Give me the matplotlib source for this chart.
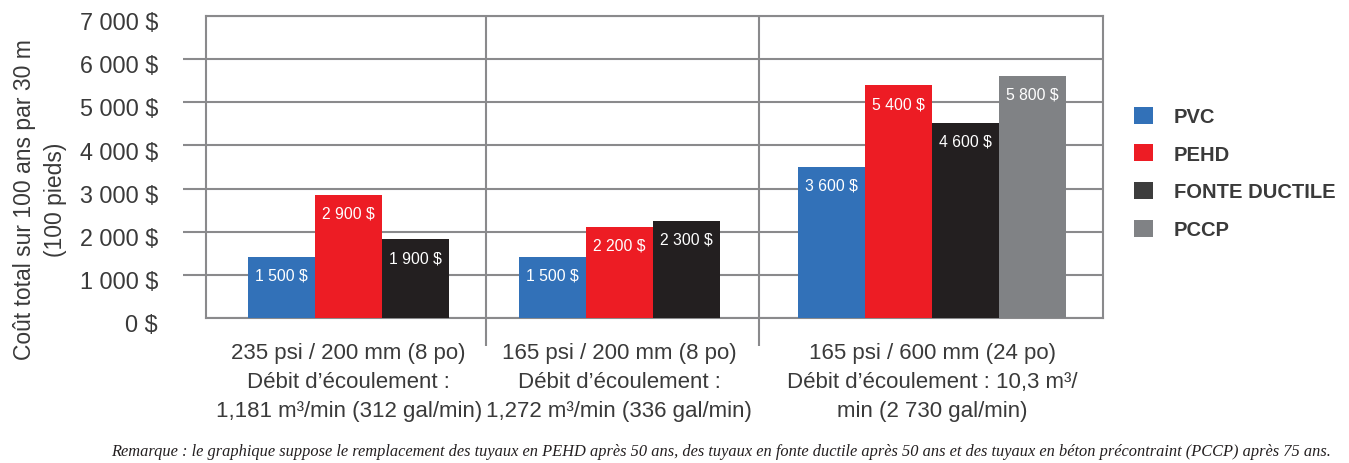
import numpy as np
import matplotlib.pyplot as plt
from matplotlib.patches import Patch
from matplotlib.ticker import FuncFormatter
import matplotlib.transforms as mtransforms

plt.rcParams['font.family'] = ['Liberation Sans', 'DejaVu Sans']

# Data ------------------------------------------------------------
groups = ["235 psi / 200 mm (8 po)\nDébit d’écoulement :\n1,181 m³/min (312 gal/min)",
          "165 psi / 200 mm (8 po)\nDébit d’écoulement :\n1,272 m³/min (336 gal/min)",
          "165 psi / 600 mm (24 po)\nDébit d’écoulement : 10,3 m³/\nmin (2 730 gal/min)"]
series = ["PVC", "PEHD", "FONTE DUCTILE", "PCCP"]
colors = ["#3271b8", "#ed1c24", "#231f20", "#808285"]
legend_colors = ["#3271b8", "#ed1c24", "#3d3d3d", "#808285"]

# bar heights as drawn
pvc = [1410, 1410, 3510]
pehd = [2850, 2120, 5390]
fonte = [1820, 2240, 4515]
pccp = [np.nan, np.nan, 5610]
# values printed on the bars
pvc_lbl = ["1 500 $", "1 500 $", "3 600 $"]
pehd_lbl = ["2 900 $", "2 200 $", "5 400 $"]
fonte_lbl = ["1 900 $", "2 300 $", "4 600 $"]
pccp_lbl = ["", "", "5 800 $"]

note = ("Remarque : le graphique suppose le remplacement des tuyaux en PEHD après 50 ans, "
        "des tuyaux en fonte ductile après 50 ans et des tuyaux en béton précontraint (PCCP) après 75 ans.")

# layout (in bar-width units)
centers = [2.13, 6.17, 10.84]
edges = [0, 4.18, 8.25, 13.39]
grid_c = "#8a8a8c"
txt_c = "#3a3a3a"

fig = plt.figure(figsize=(13.49, 4.64), dpi=100)
ax = fig.add_axes([206/1349, 1-319/464, (1103-206)/1349, (319-17)/464])

vals = np.array([pvc, pehd, fonte, pccp], dtype=float)
lbls = [pvc_lbl, pehd_lbl, fonte_lbl, pccp_lbl]
for g in range(len(groups)):
    idx = [s for s in range(len(series)) if not np.isnan(vals[s, g])]
    n = len(idx)
    for k, s in enumerate(idx):
        x = centers[g] + k - (n - 1) / 2
        ax.bar(x, vals[s, g], width=1.0, color=colors[s], zorder=3, linewidth=0)
        ax.annotate(lbls[s][g], (x, vals[s, g]), xytext=(0, -13), textcoords='offset points',
                    ha='center', va='center', color='white', fontsize=11.3, zorder=4)

ax.set_xlim(edges[0], edges[-1])
ax.set_ylim(0, 7000)

# y axis
ax.set_yticks(np.arange(0, 7001, 1000))
ax.yaxis.set_major_formatter(FuncFormatter(lambda v, p: f"{int(v):,} $".replace(",", " ")))
ax.tick_params(axis='y', length=16.5, width=1.5, color=grid_c, pad=18, labelsize=16.8, labelcolor=txt_c)
yt = ax.yaxis.get_major_ticks()
yt[0].tick1line.set_visible(False)
yt[-1].tick1line.set_visible(False)
off = mtransforms.ScaledTranslation(0, -3/72, fig.dpi_scale_trans)
for lab in ax.get_yticklabels():
    lab.set_transform(lab.get_transform() + off)
ax.yaxis.grid(True, color=grid_c, linewidth=1.5, zorder=0)

# x axis: dividers as major ticks, group names as minor ticks
ax.set_xticks(edges[1:-1])
ax.set_xticklabels([])
ax.tick_params(axis='x', which='major', length=20, width=1.5, color=grid_c)
ax.set_xticks(centers, minor=True)
ax.set_xticklabels(groups, minor=True, fontsize=16, color=txt_c, linespacing=1.5)
ax.tick_params(axis='x', which='minor', length=0, pad=17)
for e in edges[1:-1]:
    ax.axvline(e, color=grid_c, linewidth=1.5, zorder=0)

for sp in ax.spines.values():
    sp.set_color(grid_c)
    sp.set_linewidth(1.5)

fig.text(40/1349, 1-200/464, "Coût total sur 100 ans par 30 m\n(100 pieds)", rotation=90,
         ha='center', va='center', fontsize=16.5, color=txt_c, linespacing=1.45)

# legend
handles = [Patch(facecolor=c, edgecolor='none') for c in legend_colors]
leg = fig.legend(handles, series, loc='upper left', bbox_to_anchor=(1126/1349, 1-99.5/464),
                 frameon=False, handlelength=0.94, handleheight=0.94, handletextpad=1.04,
                 labelspacing=0.9, borderaxespad=0,
                 prop={'family': 'Liberation Sans', 'weight': 'bold', 'size': 14.5})
for t in leg.get_texts():
    t.set_color(txt_c)

fig.text(721/1349, 1-452/464, note, ha='center', va='center', fontsize=11.8,
         family='Liberation Serif', style='italic', color='#231f20')

fig.savefig("out.png", dpi=100)
